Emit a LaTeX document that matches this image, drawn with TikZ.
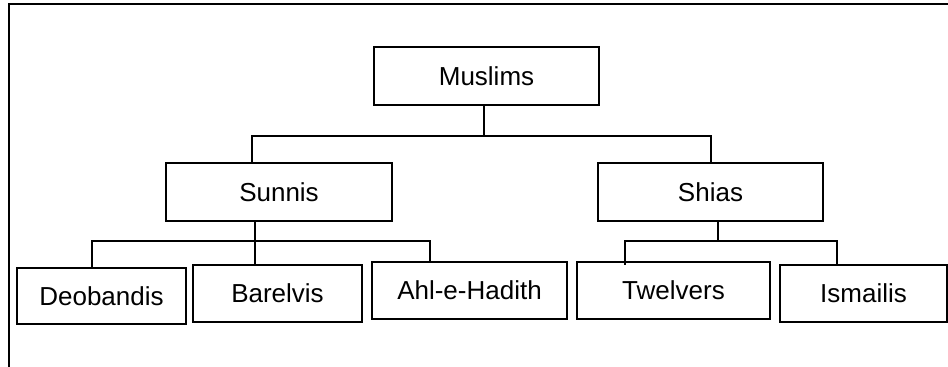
\documentclass[tikz,border=0pt]{standalone}
\usepackage{fontspec}
\setmainfont{Liberation Sans}
\tikzset{
	sect/.style={draw, line width=1.9pt, inner sep=0pt, font=\fontsize{19.5}{23}\selectfont},
	link/.style={line width=1.8pt}
}
\begin{document}
\begin{tikzpicture}[x=0.75pt, y=-0.75pt]
	\useasboundingbox (0,0) rectangle (948,367);
	\draw [line width=2pt] (9,367) -- (9,4) -- (948,4);

	\node[sect, minimum width=168.75pt, minimum height=43.5pt] (muslims) at (486.5,76) {Muslims};
	\node[sect, minimum width=169.5pt, minimum height=43.5pt] (sunnis) at (279,192) {Sunnis};
	\node[sect, minimum width=168.75pt, minimum height=43.5pt] (shias) at (710.5,192) {Shias};
	\node[sect, minimum width=126.75pt, minimum height=42pt] (deobandis) at (101.5,296) {Deobandis};
	\node[sect, minimum width=126.75pt, minimum height=42.75pt] (barelvis) at (277.5,293.5) {Barelvis};
	\node[sect, minimum width=146.25pt, minimum height=42.75pt] (ahl) at (469.5,290.5) {Ahl-e-Hadith};
	\node[sect, minimum width=144.75pt, minimum height=42.75pt] (twelvers) at (673.5,290.5) {Twelvers};
	\node[sect, minimum width=125.25pt, minimum height=42.75pt] (ismailis) at (863.5,293.5) {Ismailis};

	\coordinate (m0) at (484,136);
	\coordinate (m1) at (252,136);
	\coordinate (m2) at (711,136);
	\coordinate (s0) at (255,241);
	\coordinate (s1) at (92,241);
	\coordinate (s2) at (430,241);
	\coordinate (h0) at (718,241);
	\coordinate (h1) at (625,241);
	\coordinate (h2) at (837,241);

	\draw [link] (m0 |- muslims.south) -- (m0);
	\draw [link] (m1 |- sunnis.north) -- (m1) -- (m2) -- (m2 |- shias.north);
	\draw [link] (s0 |- sunnis.south) -- (s0 |- barelvis.north);
	\draw [link] (s1 |- deobandis.north) -- (s1) -- (s2) -- ([yshift=-2pt]s2 |- ahl.north);
	\draw [link] (h0 |- shias.south) -- (h0);
	\draw [link] ([yshift=-3pt]h1 |- twelvers.north) -- (h1) -- (h2) -- (h2 |- ismailis.north);
\end{tikzpicture}
\end{document}
